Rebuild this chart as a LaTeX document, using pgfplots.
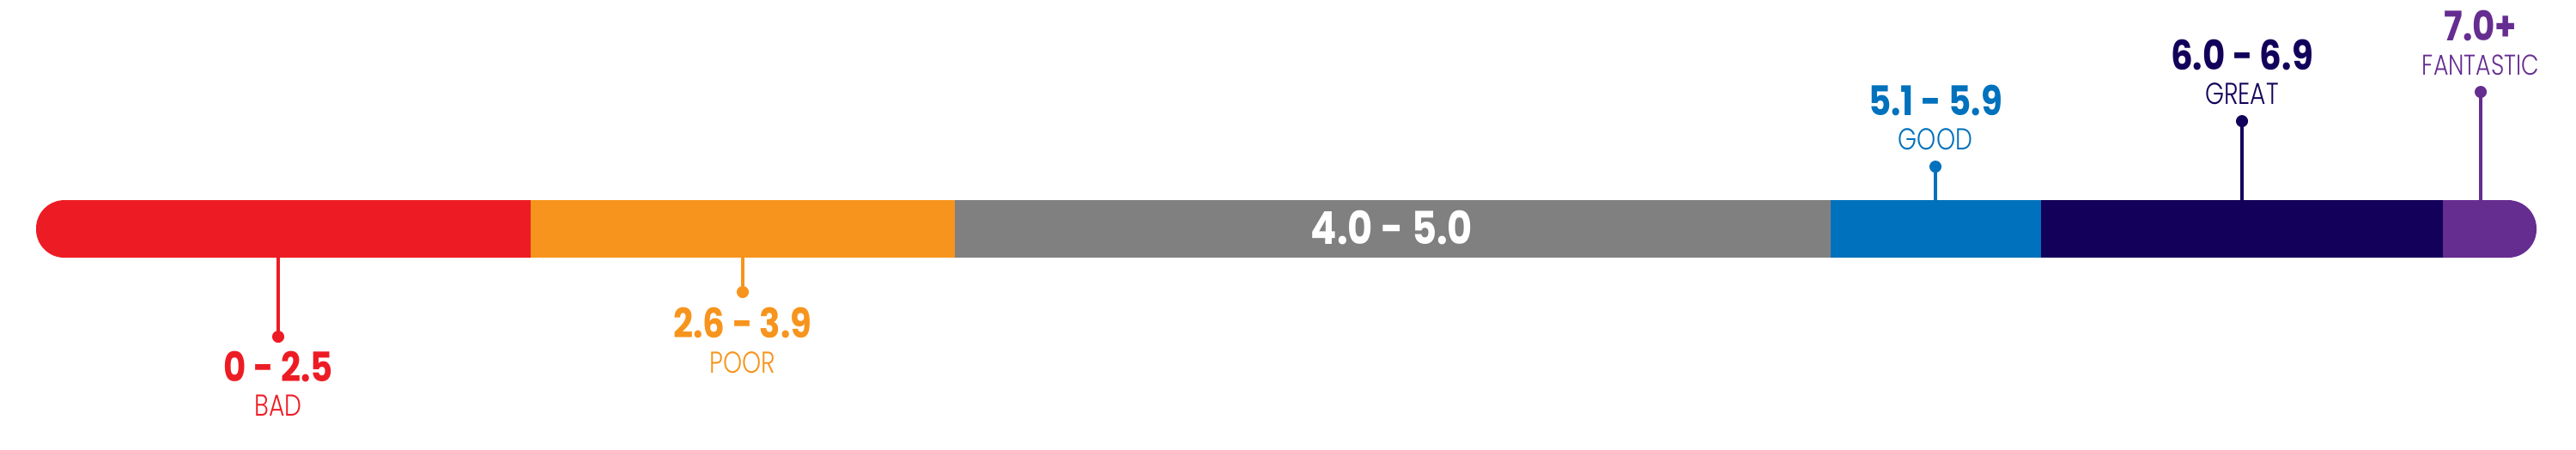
\documentclass[border=0pt]{standalone}
\usepackage{fontspec}
\setmainfont{Poppins}
\newfontfamily\numfont{Poppins}[UprightFont=* Bold, FakeStretch=0.85]
\newfontfamily\lightfont{Poppins}[UprightFont=* Light, FakeStretch=0.8]
\usepackage{pgfplots}
\pgfplotsset{compat=1.18}

\definecolor{cbad}{HTML}{ED1C24}
\definecolor{cpoor}{HTML}{F7941D}
\definecolor{cavg}{HTML}{808080}
\definecolor{cgood}{HTML}{0071BC}
\definecolor{cgreat}{HTML}{13005A}
\definecolor{cfan}{HTML}{662D91}

% stem: colour, x, bar side, dot end
\newcommand{\stem}[4]{%
  \addplot[#1, line width=1.1pt] coordinates {(#2,#3) (#2,#4)};
  \addplot[#1, only marks, mark=*, mark size=1.8pt] coordinates {(#2,#4)};
}

\begin{document}
\begin{tikzpicture}
\begin{axis}[
  scale only axis, width=30cm, height=5.19cm,
  xmin=0, xmax=3000, ymin=0, ymax=519,
  y dir=reverse, hide axis, clip=false,
]
  \path (rel axis cs:0,0) rectangle (rel axis cs:1,1);
  % segments (pixel scale of the bar)
  \addplot[fill=cbad, draw=none, rounded corners=0.33cm]
    coordinates {(618,229) (42,229) (42,296) (618,296)};
  \addplot[fill=cpoor, draw=none]
    coordinates {(618,229) (1112,229) (1112,296) (618,296)} -- cycle;
  \addplot[fill=cavg, draw=none]
    coordinates {(1112,229) (2132,229) (2132,296) (1112,296)} -- cycle;
  \addplot[fill=cgood, draw=none]
    coordinates {(2132,229) (2377,229) (2377,296) (2132,296)} -- cycle;
  \addplot[fill=cgreat, draw=none]
    coordinates {(2377,229) (2845,229) (2845,296) (2377,296)} -- cycle;
  \addplot[fill=cfan, draw=none, rounded corners=0.33cm]
    coordinates {(2845,229) (2954,229) (2954,296) (2845,296)};

  % stems
  \stem{cbad}{324}{296}{388}
  \stem{cpoor}{865}{296}{336}
  \stem{cgood}{2254}{229}{190}
  \stem{cgreat}{2611}{229}{137}
  \stem{cfan}{2889}{229}{103}

  % labels
  \node[anchor=base, text=cbad, font=\numfont\fontsize{13.5}{14}\selectfont] at (axis cs:324,440) {0 - 2.5};
  \node[anchor=base, text=cbad, font=\lightfont\fontsize{10}{11}\selectfont] at (axis cs:324,480) {BAD};
  \node[anchor=base, text=cpoor, font=\numfont\fontsize{13.5}{14}\selectfont] at (axis cs:865,389) {2.6 - 3.9};
  \node[anchor=base, text=cpoor, font=\lightfont\fontsize{10}{11}\selectfont] at (axis cs:865,430) {POOR};
  \node[anchor=base, text=white, font=\numfont\fontsize{15}{16}\selectfont] at (axis cs:1621,280) {4.0 - 5.0};
  \node[anchor=base, text=cgood, font=\numfont\fontsize{13.5}{14}\selectfont] at (axis cs:2254,130) {5.1 - 5.9};
  \node[anchor=base, text=cgood, font=\lightfont\fontsize{10}{11}\selectfont] at (axis cs:2254,170) {GOOD};
  \node[anchor=base, text=cgreat, font=\numfont\fontsize{13.5}{14}\selectfont] at (axis cs:2611,77) {6.0 - 6.9};
  \node[anchor=base, text=cgreat, font=\lightfont\fontsize{10}{11}\selectfont] at (axis cs:2611,117) {GREAT};
  \node[anchor=base, text=cfan, font=\numfont\fontsize{13.5}{14}\selectfont] at (axis cs:2889,43) {7.0+};
  \node[anchor=base, text=cfan, font=\lightfont\fontsize{9.5}{11}\selectfont] at (axis cs:2889,83) {FANTASTIC};
\end{axis}
\end{tikzpicture}
\end{document}
